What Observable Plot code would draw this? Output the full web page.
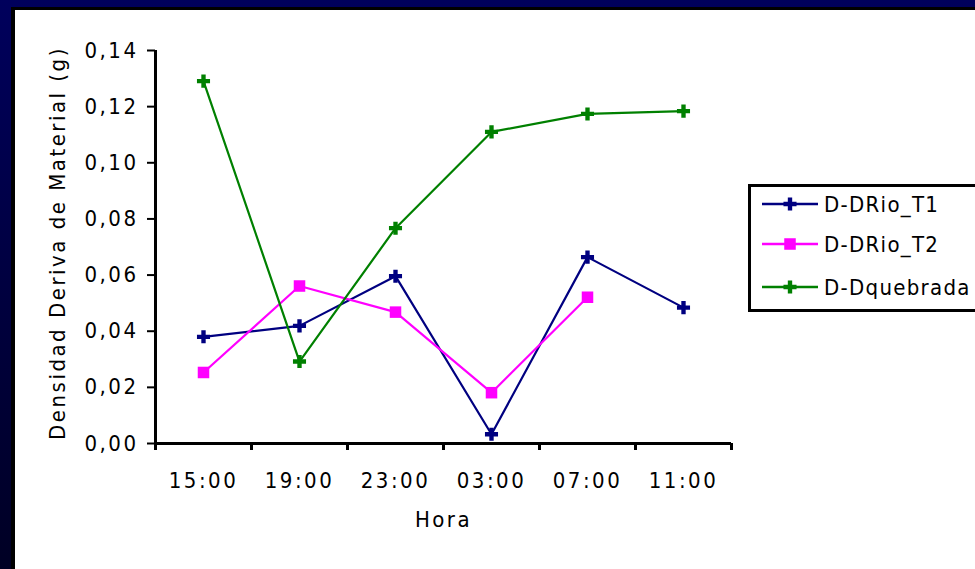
<!DOCTYPE html>
<html><head><meta charset="utf-8">
<script src="https://cdn.jsdelivr.net/npm/d3@7"></script>
<script src="https://cdn.jsdelivr.net/npm/@observablehq/plot@0.6"></script>
<style>
html,body{margin:0;padding:0;width:975px;height:569px;overflow:hidden;}
body{background:linear-gradient(to bottom,#00005c,#000024);position:relative;font-family:"Liberation Sans Narrow","DejaVu Sans Condensed",sans-serif;}
#panel{position:absolute;left:11px;top:7px;right:0;bottom:0;background:#fff;border-left:4px solid #000;border-top:3px solid #000;}
#chart{position:absolute;left:0;top:0;}
#legend{position:absolute;left:748px;top:184px;width:240px;height:122px;border:3px solid #000;background:#fff;}
#legend svg{display:block;}
</style></head><body>
<div id="panel"></div><div id="chart"></div><div id="legend"></div>
<script>
const hours = ["15:00","19:00","23:00","03:00","07:00","11:00"];
const rioT1 = [0.0380,0.0419,0.0596,0.0033,0.0664,0.0484];
const rioT2 = [0.0253,0.0561,0.0468,0.0181,0.0521,null];
const quebrada = [0.1291,0.0292,0.0767,0.1110,0.1174,0.1184];
const seriesNames = ["D-DRio_T1","D-DRio_T2","D-Dquebrada"];
const seriesColors = ["#000080","#ff00ff","#008000"];
const seriesSymbols = ["cross","square","cross"];
const yTicks = [0,0.02,0.04,0.06,0.08,0.10,0.12,0.14];
const yLabel = "Densidad Deriva de Material (g)";
const xLabel = "Hora";

const seriesValues = [rioT1, rioT2, quebrada];
const rows = seriesValues.flatMap((vals, s) =>
  vals.map((v, i) => ({series: seriesNames[s], i, v})).filter(d => d.v != null));
const bounds = d3.range(hours.length + 1).map(k => k - 0.5);
const fmt = d => d.toFixed(2).replace(".", ",");
const FONT = "Liberation Sans Narrow, DejaVu Sans Condensed, sans-serif";

const marks = [];
// axes
marks.push(Plot.ruleX(bounds, {x: d => d, y1: 0, y2: 0, insetBottom: -7, stroke: "#000", strokeWidth: 3}));
marks.push(Plot.ruleY(yTicks, {y: d => d, x1: -0.5, x2: -0.5, insetLeft: -8, stroke: "#000", strokeWidth: 2}));
marks.push(Plot.ruleY([0], {x1: -0.5, x2: 5.5, stroke: "#000", strokeWidth: 3}));
marks.push(Plot.ruleX([-0.5], {y1: 0, y2: 0.14, stroke: "#000", strokeWidth: 3}));
marks.push(Plot.text(yTicks, {x: -0.5, y: d => d, text: fmt, textAnchor: "end", dx: -17, fill: "#000"}));
marks.push(Plot.text(hours, {x: (d, i) => i, y: 0, text: d => d, dy: 37, fill: "#000"}));
marks.push(Plot.text([xLabel], {frameAnchor: "bottom", text: d => d, dy: 83, fill: "#000"}));
marks.push(Plot.text([yLabel], {frameAnchor: "left", textAnchor: "middle", text: d => d, dx: -98, dy: -4, rotate: -90, fill: "#000"}));
// series
seriesNames.forEach((name, s) => {
  const data = rows.filter(d => d.series === name);
  marks.push(Plot.line(data, {x: "i", y: "v", stroke: seriesColors[s], strokeWidth: 2.2}));
  marks.push(Plot.dot(data, {x: "i", y: "v", symbol: seriesSymbols[s], r: seriesSymbols[s] === "square" ? 6.5 : 5.5, fill: seriesColors[s], stroke: "none"}));
});

const chart = Plot.plot({
  width: 975, height: 569,
  marginLeft: 155, marginRight: 244, marginTop: 50, marginBottom: 126,
  x: {type: "linear", domain: [-0.5, 5.5], axis: null},
  y: {type: "linear", domain: [0, 0.14], axis: null},
  style: {background: "transparent", fontFamily: FONT, fontSize: "22px", letterSpacing: "2.5px", overflow: "visible"},
  marks
});
document.getElementById("chart").appendChild(chart);

// legend
const leg = d3.select("#legend").append("svg").attr("width", 240).attr("height", 122)
  .style("font-family", FONT).style("font-size", "22px").style("letter-spacing", "1.3px");
const rowY = [17, 57, 100];
seriesNames.forEach((name, s) => {
  const g = leg.append("g").attr("transform", `translate(0,${rowY[s]})`);
  g.append("line").attr("x1", 11).attr("x2", 67).attr("y1", 0).attr("y2", 0)
    .attr("stroke", seriesColors[s]).attr("stroke-width", 2.5);
  const r = seriesSymbols[s] === "square" ? 6.5 : 5.5;
  const sym = seriesSymbols[s] === "square" ? d3.symbolSquare : d3.symbolCross;
  g.append("path").attr("transform", "translate(39,0)")
    .attr("d", d3.symbol(sym, r * r * Math.PI)()).attr("fill", seriesColors[s]);
  g.append("text").attr("x", 73).attr("y", 0).attr("dy", "0.35em").attr("fill", "#000").text(name);
});
</script>
</body></html>
